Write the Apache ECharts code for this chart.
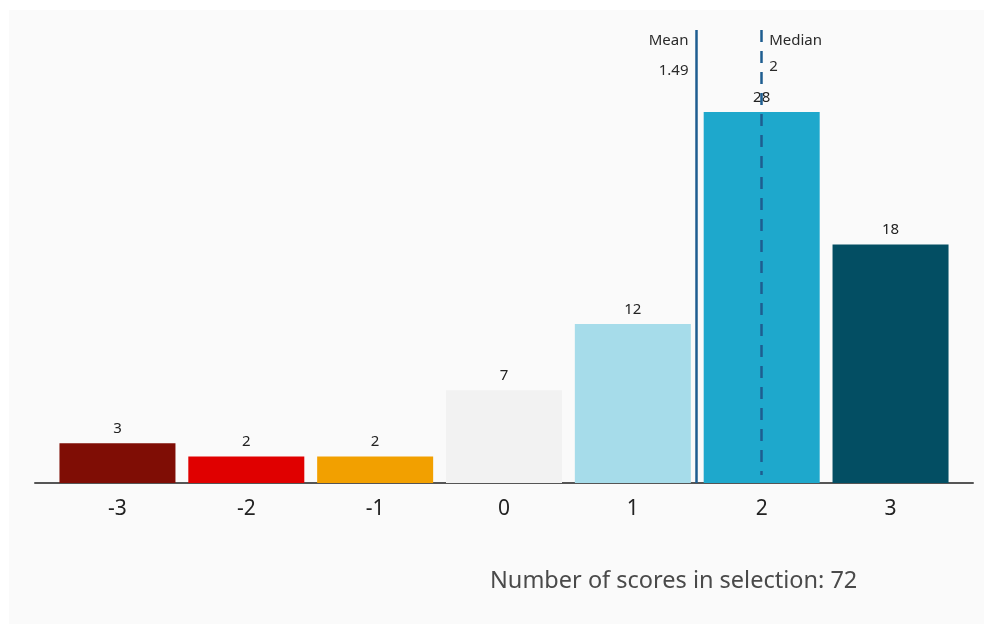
<!DOCTYPE html>
<html style="height: 100%">
<head>
<meta charset="UTF-8">
<title>Score distribution</title>
<script src="https://cdn.jsdelivr.net/npm/echarts@6/dist/echarts.min.js"></script>
</head>
<body style="height: 100%; margin: 0; background: #fff">
<div id="container" style="width: 984px; height: 624px"></div>
<script type="text/javascript">
// scores on the x axis and how many times each one was given
var scores = [-3, -2, -1, 0, 1, 2, 3];
var counts = [3, 2, 2, 7, 12, 28, 18];
var barColors = ['#7f0d05', '#e00000', '#f2a000', '#f2f2f2', '#a6dcea', '#1ea8cc', '#034e63'];

// summary numbers, worked out from the counts above
var total = 0, sum = 0;
for (var i = 0; i < scores.length; i++) {
    total += counts[i];
    sum += scores[i] * counts[i];
}
var mean = Math.round(sum / total * 100) / 100;
var median = (function () {
    var half = total / 2, acc = 0;
    for (var i = 0; i < scores.length; i++) {
        acc += counts[i];
        if (acc >= half) return scores[i];
    }
})();

var font = 'Noto Sans';
var dom = document.getElementById('container');
var myChart = echarts.init(dom);

var barData = scores.map(function (s, i) {
    return { value: [s, counts[i]], itemStyle: { color: barColors[i] } };
});

// small helper for the text next to the mean / median lines
function lineNote(x, text, pos, align, lh) {
    return {
        coord: [x, 34.2],
        symbol: 'circle',
        symbolSize: 1,
        itemStyle: { color: 'rgba(0,0,0,0)' },
        label: {
            show: true,
            formatter: text,
            position: pos,
            align: align,
            verticalAlign: 'top',
            lineHeight: lh,
            fontSize: 15,
            color: '#2a2a2a'
        }
    };
}

var option = {
    backgroundColor: '#fff',
    animation: false,
    textStyle: { fontFamily: font },
    graphic: [
        // light grey panel behind the chart
        { type: 'rect', left: 9, top: 10, z: -10,
          shape: { width: 975, height: 614 }, style: { fill: '#fafafa' } },
        { type: 'text', left: 490, top: 569,
          style: { text: 'Number of scores in selection: ' + total,
                   font: '23.5px "' + font + '"', fill: '#4a4a4a' } }
    ],
    grid: { left: 35, right: 11, top: 30, bottom: 141 },
    xAxis: {
        type: 'value',
        min: -3.64,
        max: 3.64,
        axisLine: { show: true, lineStyle: { color: '#555', width: 2 } },
        axisTick: { show: false },
        splitLine: { show: false },
        axisLabel: {
            customValues: scores,
            color: '#222',
            fontSize: 21,
            margin: 16
        }
    },
    yAxis: {
        type: 'value',
        min: 0,
        max: 34.2,
        show: false,
        splitLine: { show: false }
    },
    series: [{
        type: 'bar',
        barWidth: 116,
        data: barData,
        label: {
            show: true,
            position: 'top',
            distance: 7,
            color: '#222',
            fontSize: 15,
            formatter: function (p) { return p.value[1]; }
        },
        markLine: {
            silent: true,
            symbol: 'none',
            label: { show: false },
            data: [
                { xAxis: mean, lineStyle: { color: '#1e5d90', width: 2.5, type: 'solid' } },
                [
                    { coord: [median, 34.2], lineStyle: { color: '#1e5d90', width: 2.5, type: [12, 9] } },
                    { coord: [median, 0.6] }
                ]
            ]
        },
        markPoint: {
            silent: true,
            data: [
                lineNote(mean, 'Mean\n' + mean, [-7, -4], 'right', 30),
                lineNote(median, 'Median\n' + median, [8, -2], 'left', 26)
            ]
        }
    }]
};

myChart.setOption(option, true);
</script>
</body>
</html>
